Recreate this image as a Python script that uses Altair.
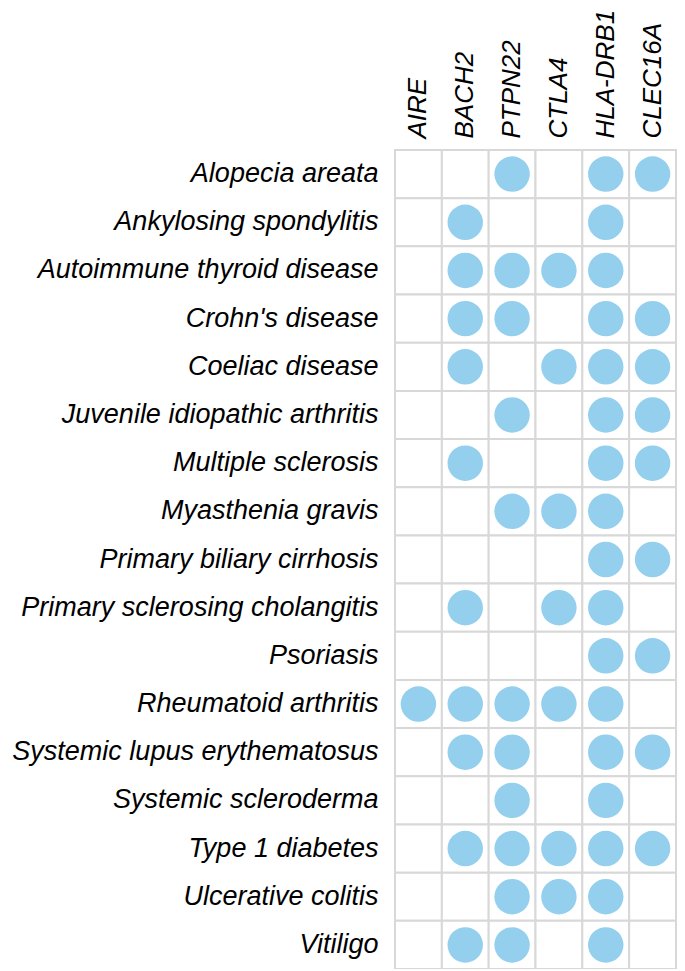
import altair as alt
import pandas as pd

genes = ["AIRE", "BACH2", "PTPN22", "CTLA4", "HLA-DRB1", "CLEC16A"]
diseases = [
    "Alopecia areata",
    "Ankylosing spondylitis",
    "Autoimmune thyroid disease",
    "Crohn's disease",
    "Coeliac disease",
    "Juvenile idiopathic arthritis",
    "Multiple sclerosis",
    "Myasthenia gravis",
    "Primary biliary cirrhosis",
    "Primary sclerosing cholangitis",
    "Psoriasis",
    "Rheumatoid arthritis",
    "Systemic lupus erythematosus",
    "Systemic scleroderma",
    "Type 1 diabetes",
    "Ulcerative colitis",
    "Vitiligo",
]
associations = [
    ["PTPN22", "HLA-DRB1", "CLEC16A"],
    ["BACH2", "HLA-DRB1"],
    ["BACH2", "PTPN22", "CTLA4", "HLA-DRB1"],
    ["BACH2", "PTPN22", "HLA-DRB1", "CLEC16A"],
    ["BACH2", "CTLA4", "HLA-DRB1", "CLEC16A"],
    ["PTPN22", "HLA-DRB1", "CLEC16A"],
    ["BACH2", "HLA-DRB1", "CLEC16A"],
    ["PTPN22", "CTLA4", "HLA-DRB1"],
    ["HLA-DRB1", "CLEC16A"],
    ["BACH2", "CTLA4", "HLA-DRB1"],
    ["HLA-DRB1", "CLEC16A"],
    ["AIRE", "BACH2", "PTPN22", "CTLA4", "HLA-DRB1"],
    ["BACH2", "PTPN22", "HLA-DRB1", "CLEC16A"],
    ["PTPN22", "HLA-DRB1"],
    ["BACH2", "PTPN22", "CTLA4", "HLA-DRB1", "CLEC16A"],
    ["PTPN22", "CTLA4", "HLA-DRB1"],
    ["BACH2", "PTPN22", "HLA-DRB1"],
]

rows = []
for d, assoc in zip(diseases, associations):
    for g in genes:
        rows.append({"disease": d, "gene": g, "hit": 1 if g in assoc else 0})
df = pd.DataFrame(rows)

FONT = "Liberation Sans"

x = alt.X("gene:N", sort=genes, title=None,
          scale=alt.Scale(paddingInner=0, paddingOuter=0),
          axis=alt.Axis(orient="top", labelAngle=-90, labelFont=FONT, labelFontSize=26,
                        labelFontStyle="italic", labelColor="#000", ticks=False,
                        domain=False, labelPadding=12, labelAlign="left",
                        labelBaseline="middle"))
y = alt.Y("disease:N", sort=diseases, title=None,
          scale=alt.Scale(paddingInner=0, paddingOuter=0),
          axis=alt.Axis(labelFont=FONT, labelFontSize=27, labelFontStyle="italic",
                        labelColor="#000", ticks=False, domain=False, labelPadding=17,
                        labelLimit=500))

grid = alt.Chart(df).mark_rect(fill="white", stroke="#d8d8d8", strokeWidth=2).encode(x=x, y=y)
dots = alt.Chart(df).transform_filter("datum.hit == 1").mark_circle(
    size=1257, color="#94cfee", opacity=1).encode(x=x, y=y)

chart = alt.layer(grid, dots).properties(
    width=281, height=819,
    autosize=alt.AutoSizeParams(type="none"),
    padding={"left": 387, "top": 142, "right": 1, "bottom": 0},
).configure_view(stroke=None)

chart.save("out.html", embed_options={"renderer": "svg", "actions": False})
